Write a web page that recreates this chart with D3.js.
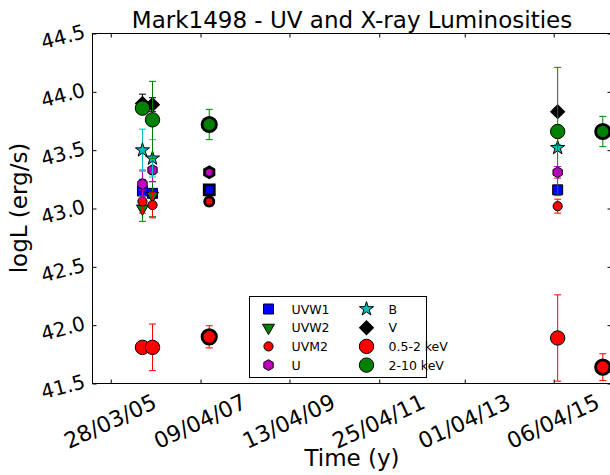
<!DOCTYPE html>
<html><head><meta charset="utf-8">
<script src="https://cdn.jsdelivr.net/npm/d3@7"></script>
<style>body{margin:0;background:#fff} svg text{font-family:"DejaVu Sans",sans-serif}</style>
</head><body><svg id="c" width="610" height="475"></svg>
<script>
// ---- data ----
const epochs   = ["2005-12-15","2006-03-08","2007-06-20","2015-05-09","2016-05-16"];
const stacked  = [1, 1, 3, 1, 3];            // overplotted observations per epoch
const uvw1     = [43.15, 43.13, 43.16, 43.16, null];
const uvw1Err  = [0.10, 0.10, 0.03, 0.03, null];
const uvw2     = [43.00, 43.11, null, null, null];
const uvw2Err  = [0.11, 0.18, null, null, null];
const uvm2     = [43.06, 43.03, 43.06, 43.02, null];
const uvm2Err  = [0.10, 0.11, 0.04, 0.06, null];
const uBand    = [43.21, 43.33, 43.31, 43.31, null];
const uErr     = [0.12, 0.10, 0.03, 0.05, null];
const bBand    = [43.50, 43.43, null, 43.52, null];
const bErr     = [0.18, 0.16, null, 0.03, null];
const vBand    = [43.90, 43.89, null, 43.83, null];
const vErr     = [0.08, 0.06, null, 0.03, null];
const soft     = [41.81, 41.81, 41.90, 41.89, 41.64];
const softErr  = [0.03, 0.20, 0.095, 0.37, 0.115];
const hard     = [43.86, 43.76, 43.72, 43.66, 43.66];
const hardErr  = [0.03, 0.33, 0.13, 0.55, 0.13];
const seriesNames = ["UVW1","UVW2","UVM2","U","B","V","0.5-2 keV","2-10 keV"];
const xTickLabels = ["28/03/05","09/04/07","13/04/09","25/04/11","01/04/13","06/04/15"];
const yTicks   = [41.5, 42.0, 42.5, 43.0, 43.5, 44.0, 44.5];
const xDomain  = ["2004-10-28","2016-07-27"];
const yDomain  = [41.5, 44.5];

// ---- layout ----
const L = 92.5, R = 611.5, T = 33.5, B = 383.5;
const svg = d3.select("#c");
const parseISO = d3.timeParse("%Y-%m-%d");
const parseTick = d3.timeParse("%d/%m/%y");
const fmtTick = d3.timeFormat("%d/%m/%y");

const x = d3.scaleTime().domain(xDomain.map(parseISO)).range([L, R]);
const y = d3.scaleLinear().domain(yDomain).range([B, T]);

const hexPath = (r) => {
  const pts = d3.range(6).map(i => {
    const a = Math.PI/2 + i*Math.PI/3;
    return [r*Math.cos(a), -r*Math.sin(a)];
  });
  return "M" + pts.map(p => p.join(",")).join("L") + "Z";
};
const symbols = {
  square:  () => d3.symbol(d3.symbolSquare, 100)(),
  tri:     () => d3.symbol(d3.symbolTriangle, 62)(),
  circS:   () => d3.symbol(d3.symbolCircle, Math.PI*4.6*4.6)(),
  hex:     () => hexPath(5.4),
  star:    () => d3.symbol(d3.symbolStar, 62)(),
  diamond: () => d3.symbol(d3.symbolSquare, 98)(),
  circL:   () => d3.symbol(d3.symbolCircle, Math.PI*7.2*7.2)()
};
const series = [
  {name: seriesNames[0], v: uvw1, e: uvw1Err, sym: "square",  color: "#0000ff", rot: 0},
  {name: seriesNames[1], v: uvw2, e: uvw2Err, sym: "tri",     color: "#008000", rot: 180},
  {name: seriesNames[2], v: uvm2, e: uvm2Err, sym: "circS",   color: "#ff0000", rot: 0},
  {name: seriesNames[3], v: uBand, e: uErr,   sym: "hex",     color: "#bf00bf", rot: 0},
  {name: seriesNames[4], v: bBand, e: bErr,   sym: "star",    color: "#00bfbf", rot: 0},
  {name: seriesNames[5], v: vBand, e: vErr,   sym: "diamond", color: "#000000", rot: 45},
  {name: seriesNames[6], v: soft,  e: softErr,sym: "circL",   color: "#ff0000", rot: 0},
  {name: seriesNames[7], v: hard,  e: hardErr,sym: "circL",   color: "#008000", rot: 0}
];

const plot = svg.append("g");
series.forEach(s => {
  const pts = epochs.map((d,i) => ({d: parseISO(d), v: s.v[i], e: s.e[i], n: stacked[i]}))
                    .filter(p => p.v != null);
  const g = plot.append("g");
  pts.forEach(p => {
    const cx = x(p.d);
    g.append("line").attr("x1", cx).attr("x2", cx)
      .attr("y1", y(p.v - p.e)).attr("y2", y(p.v + p.e))
      .attr("stroke", s.color).attr("stroke-width", 1);
    [p.v - p.e, p.v + p.e].forEach(ev => {
      g.append("line").attr("x1", cx - 3.5).attr("x2", cx + 3.5)
        .attr("y1", y(ev)).attr("y2", y(ev))
        .attr("stroke", s.color).attr("stroke-width", 1);
    });
  });
  pts.forEach(p => {
    g.append("path").attr("d", symbols[s.sym]())
      .attr("transform", `translate(${x(p.d)},${y(p.v)}) rotate(${s.rot})`)
      .attr("fill", s.color).attr("stroke", "#000")
      .attr("stroke-width", p.n > 1 ? 2.8 : 1);
  });
});

// ---- axes ----
const tickDates = xTickLabels.map(parseTick);
const gx = svg.append("g").attr("transform", `translate(0,${B})`)
  .call(d3.axisBottom(x).tickValues(tickDates).tickFormat(fmtTick).tickSize(-4).tickPadding(0));
gx.select(".domain").remove();
gx.selectAll("text").attr("y", 0).attr("dy", null)
  .attr("text-anchor", "middle").attr("dominant-baseline", "central")
  .attr("transform", "translate(-1,38) rotate(-25)")
  .style("font-size", "22px").style("font-family", "DejaVu Sans").attr("fill", "#000");
const gxt = svg.append("g").attr("transform", `translate(0,${T})`)
  .call(d3.axisTop(x).tickValues(tickDates).tickFormat("").tickSize(-4));
gxt.select(".domain").remove();

const gy = svg.append("g").attr("transform", `translate(${L},0)`)
  .call(d3.axisLeft(y).tickValues(yTicks).tickFormat(d3.format(".1f")).tickSize(-4).tickPadding(0));
gy.select(".domain").remove();
gy.selectAll("text").attr("x", 0).attr("dy", null)
  .attr("text-anchor", "end").attr("dominant-baseline", "central")
  .attr("transform", "translate(-8,-3) rotate(-15)")
  .style("font-size", "20px").style("font-family", "DejaVu Sans").attr("fill", "#000");
const gyr = svg.append("g").attr("transform", `translate(${R},0)`)
  .call(d3.axisRight(y).tickValues(yTicks).tickFormat("").tickSize(-4));
gyr.select(".domain").remove();
svg.selectAll(".tick line").attr("stroke", "#000");

svg.append("rect").attr("x", L).attr("y", T).attr("width", R - L).attr("height", B - T)
  .attr("fill", "none").attr("stroke", "#000").attr("stroke-width", 1);

// ---- legend ----
const lg = svg.append("g");
lg.append("rect").attr("x", 249.5).attr("y", 296.5).attr("width", 177).attr("height", 81)
  .attr("fill", "#fff").attr("stroke", "#000").attr("stroke-width", 1);
series.forEach((s, i) => {
  const col = Math.floor(i / 4), row = i % 4;
  const mx = col === 0 ? 268.5 : 366.5;
  const tx = col === 0 ? 291.5 : 388.5;
  const yy = 309 + row * 18.7;
  lg.append("path").attr("d", symbols[s.sym]())
    .attr("transform", `translate(${mx},${yy}) rotate(${s.rot})`)
    .attr("fill", s.color).attr("stroke", "#000").attr("stroke-width", 1);
  lg.append("text").attr("x", tx).attr("y", yy).attr("dominant-baseline", "central")
    .style("font-size", "12.5px").text(s.name);
});

// ---- titles ----
svg.append("text").attr("x", 352).attr("y", 28).attr("text-anchor", "middle")
  .style("font-size", "23px").text("Mark1498 - UV and X-ray Luminosities");
svg.append("text").attr("x", 352).attr("y", 458).attr("text-anchor", "middle")
  .attr("dominant-baseline", "central").style("font-size", "23px").text("Time (y)");
svg.append("text").attr("transform", "translate(19,208) rotate(-90)").attr("text-anchor", "middle")
  .attr("dominant-baseline", "central").style("font-size", "23px").text("logL (erg/s)");
</script></body></html>
